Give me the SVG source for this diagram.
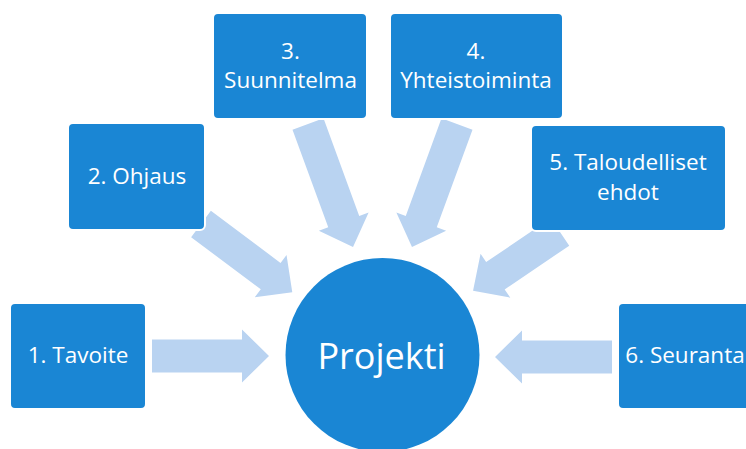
<svg xmlns="http://www.w3.org/2000/svg" width="746" height="449" viewBox="0 0 746 449">
  <style>
    .box { fill: #1a86d4; stroke: #ffffff; stroke-width: 2; }
    .arrow { fill: #b9d3f1; }
    .lbl { font-family: "Open Sans", "Liberation Sans", sans-serif; font-size: 22.5px; fill: #ffffff; text-anchor: middle; }
    .big { font-family: "Open Sans", "Liberation Sans", sans-serif; font-size: 36px; fill: #ffffff; text-anchor: middle; }
  </style>
  <rect width="746" height="449" fill="#ffffff"/>
  <g id="connectors">
    <path class="arrow" transform="translate(152,356)" d="M0,-16.5 H90 V-26.5 L117,0 L90,26.5 V16.5 H0 Z"/>
    <path class="arrow" transform="translate(612,357) rotate(180)" d="M0,-16.5 H90 V-26.5 L117,0 L90,26.5 V16.5 H0 Z"/>
    <path class="arrow" transform="translate(201,224) rotate(36.8)" d="M0,-16.5 H87 V-26.5 L114,0 L87,26.5 V16.5 H0 Z"/>
    <path class="arrow" transform="translate(308,124) rotate(69.9)" d="M0,-16.5 H104 V-26.5 L131,0 L104,26.5 V16.5 H0 Z"/>
    <path class="arrow" transform="translate(457,124) rotate(110.1)" d="M0,-16.5 H104 V-26.5 L131,0 L104,26.5 V16.5 H0 Z"/>
    <path class="arrow" transform="translate(560,232) rotate(145.9)" d="M0,-16.5 H78 V-26.5 L105,0 L78,26.5 V16.5 H0 Z"/>
  </g>
  <g id="node-projekti">
    <circle cx="382.5" cy="355" r="97" fill="#1a86d4"/>
    <text class="big" x="381.5" y="369">Projekti</text>
  </g>
  <g id="node-1">
    <rect class="box" x="10" y="303" width="136" height="106" rx="5"/>
    <text class="lbl" x="78" y="363">1. Tavoite</text>
  </g>
  <g id="node-2">
    <rect class="box" x="68" y="123" width="137" height="107" rx="5"/>
    <text class="lbl" x="137" y="184">2. Ohjaus</text>
  </g>
  <g id="node-3">
    <rect class="box" x="213" y="13" width="154" height="106" rx="5"/>
    <text class="lbl" x="290.5" y="59">3.</text>
    <text class="lbl" x="290.5" y="88">Suunnitelma</text>
  </g>
  <g id="node-4">
    <rect class="box" x="390" y="13" width="173" height="106" rx="5"/>
    <text class="lbl" x="476" y="59">4.</text>
    <text class="lbl" x="476" y="88">Yhteistoiminta</text>
  </g>
  <g id="node-5">
    <rect class="box" x="531" y="125" width="195" height="106" rx="5"/>
    <text class="lbl" x="628" y="170">5. Taloudelliset</text>
    <text class="lbl" x="628" y="200">ehdot</text>
  </g>
  <g id="node-6">
    <rect class="box" x="618" y="303" width="140" height="106" rx="5"/>
    <text class="lbl" x="685" y="363">6. Seuranta</text>
  </g>
</svg>
